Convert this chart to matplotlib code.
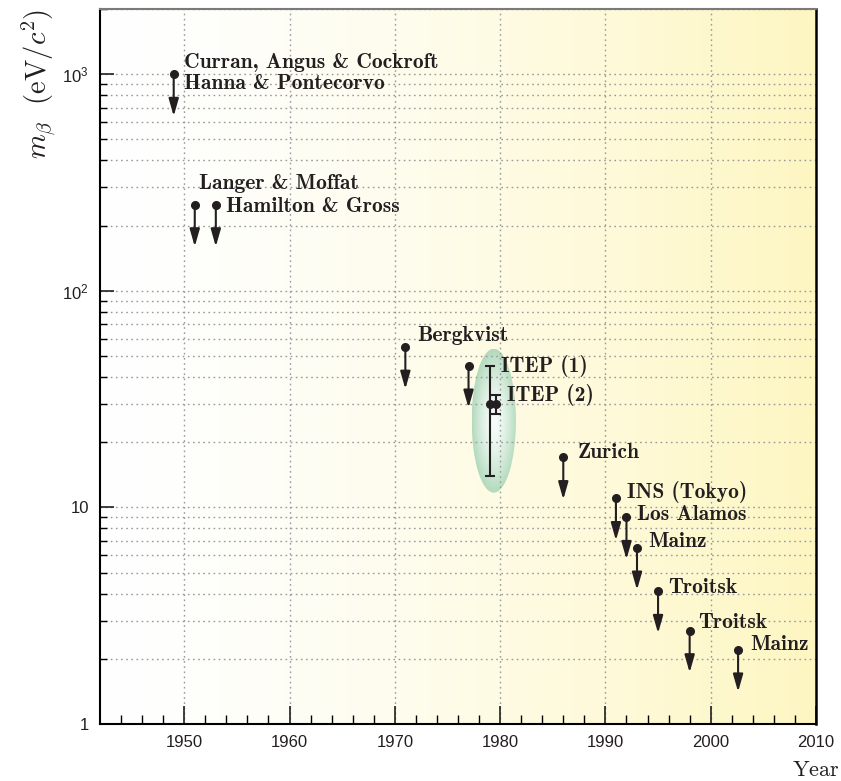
import numpy as np
import matplotlib
matplotlib.use('Agg')
import matplotlib.pyplot as plt
from matplotlib.patches import Ellipse
from matplotlib.ticker import FixedLocator, NullFormatter

plt.rcParams['font.family'] = ['Liberation Sans', 'DejaVu Sans']
plt.rcParams['mathtext.fontset'] = 'custom'
plt.rcParams['mathtext.rm'] = 'Liberation Sans'
plt.rcParams['mathtext.it'] = 'Liberation Sans:italic'

# upper limits on m_beta (drawn as arrows pointing down)
limit_years = [1949, 1951, 1953, 1971, 1977, 1986, 1991, 1992, 1993, 1995, 1998, 2002.6]
limit_values = [1000, 250, 250, 55, 45, 17, 11, 9.0, 6.5, 4.1, 2.7, 2.2]

# ITEP claimed measurements with error bars
itep_years = [1979.0, 1979.6]
itep_values = [30, 30]
itep_low = [14, 27]
itep_high = [45, 33]

# shaded region around the ITEP claim
ellipse_years = (1977.3, 1981.5)
ellipse_values = (11.7, 54)

labels = ['Curran, Angus & Cockroft', 'Hanna & Pontecorvo', 'Langer & Moffat',
          'Hamilton & Gross', 'Bergkvist', 'ITEP (1)', 'ITEP (2)', 'Zurich',
          'INS (Tokyo)', 'Los Alamos', 'Mainz', 'Troitsk', 'Troitsk', 'Mainz']
label_x = [1949, 1949, 1951, 1953, 1971, 1979.0, 1979.6, 1986, 1991, 1992, 1993, 1995, 1998, 2002.6]
label_y = [1000, 1000, 250, 250, 55, 45, 30, 17, 11, 9.0, 6.5, 4.1, 2.7, 2.2]
# text offsets from the anchor point, in pixels
label_dx = [10, 10, 4, 10, 12, 11, 11, 14, 11, 11, 11, 10, 9, 12]
label_dy = [12, -9, 21, -2, 12, 0, 9, 5, 6, 3, 6, 4, 8, 5]

ink = '#231f20'
px = 0.72  # points per pixel at dpi 100

fig = plt.figure(figsize=(8.41, 7.81), dpi=100)
ax = fig.add_axes([100 / 841, 1 - 724 / 781, 716 / 841, 715 / 781])
ax.set_facecolor('none')
ax.set_xscale('linear')
ax.set_yscale('log')
ax.set_autoscale_on(False)
ax.set_xlim(1942, 2010)
ax.set_ylim(1, 2000)

# background: white on the left fading to pale yellow on the right
t = np.linspace(0, 1, 400) ** 1.4
left = np.array([1.0, 1.0, 1.0])
right = np.array([0.995, 0.965, 0.76])
bg = left + (right - left) * t[:, None]
ax.imshow(bg[None, :, :], extent=[0, 1, 0, 1], transform=ax.transAxes,
          aspect='auto', zorder=0, interpolation='bilinear')

# radial green gradient inside the ellipse
def to_axes(x, y):
    return ax.transLimits.transform(ax.transScale.transform((x, y)))

ax0, ay0 = to_axes(ellipse_years[0], ellipse_values[0])
ax1, ay1 = to_axes(ellipse_years[1], ellipse_values[1])
n = 300
gx, gy = np.meshgrid(np.linspace(-1, 1, n), np.linspace(-1, 1, n))
r = np.clip(np.hypot(gx, gy), 0, 1)
inner = np.array([0.97, 0.99, 0.98])
outer = np.array([0.70, 0.855, 0.74])
img = inner + (outer - inner) * (r ** 1.5)[..., None]
im = ax.imshow(img, extent=[ax0, ax1, ay0, ay1], transform=ax.transAxes,
               origin='lower', aspect='auto', zorder=0.5, interpolation='bilinear')
ell = Ellipse(((ax0 + ax1) / 2, (ay0 + ay1) / 2), ax1 - ax0, ay1 - ay0,
              transform=ax.transAxes, facecolor='none', edgecolor='none')
ax.add_patch(ell)
im.set_clip_path(ell)
ax.set_xlim(1942, 2010)
ax.set_ylim(1, 2000)

# grid
ax.xaxis.set_major_locator(FixedLocator(range(1950, 2011, 10)))
ax.xaxis.set_minor_locator(FixedLocator(range(1944, 2010, 2)))
ax.yaxis.set_major_locator(FixedLocator([1, 10, 100, 1000]))
ax.yaxis.set_minor_locator(FixedLocator([m * 10 ** e for e in range(0, 4) for m in range(2, 10)]))
ax.yaxis.set_minor_formatter(NullFormatter())
ax.set_yticklabels(['1', '10', r'$10^{2}$', r'$10^{3}$'])
ax.grid(True, which='major', axis='x', color='#9a9a9a', linestyle=(0, (1.2, 2.5)), lw=1)
ax.grid(True, which='both', axis='y', color='#9a9a9a', linestyle=(0, (1.2, 2.5)), lw=1)

ax.tick_params(axis='x', which='major', direction='in', length=13, width=1.2, pad=8,
               labelsize=12, colors=ink, top=False)
ax.tick_params(axis='x', which='minor', direction='in', length=6.5, width=1.0, top=False)
ax.tick_params(axis='y', which='major', direction='in', length=10, width=1.2, pad=8,
               labelsize=12, colors=ink, right=False)
ax.tick_params(axis='y', which='minor', direction='in', length=5, width=1.0, right=False)

for side in ['left', 'bottom']:
    ax.spines[side].set_color('black')
    ax.spines[side].set_linewidth(1.5)
ax.spines['right'].set_color('black')
ax.spines['right'].set_linewidth(1.8)
ax.spines['top'].set_color('#7a7a7a')
ax.spines['top'].set_linewidth(1.5)

# upper limits
for yr, val in zip(limit_years, limit_values):
    ax.annotate('', xy=(yr, val * 0.64), xytext=(yr, val),
                arrowprops=dict(arrowstyle='-|>,head_length=1.05,head_width=0.3',
                                color=ink, lw=1.5, shrinkA=0, shrinkB=0,
                                mutation_scale=10),
                zorder=3)
ax.plot(limit_years, limit_values, 'o', color=ink, ms=5.5, zorder=4)

# ITEP measurements
for yr, val, lo, hi in zip(itep_years, itep_values, itep_low, itep_high):
    ax.errorbar([yr], [val], yerr=[[val - lo], [hi - val]], fmt='o', color=ink,
                ms=5.5, lw=1.5, capsize=3.3, capthick=1.5, zorder=4)

for s, x, y, dx, dy in zip(labels, label_x, label_y, label_dx, label_dy):
    ax.annotate(s, xy=(x, y), xytext=(dx * px, dy * px), textcoords='offset points',
                ha='left', va='center', fontsize=15.5, color=ink,
                family='cmb10', zorder=5)

fig.text(40 / 841, 1 - 9 / 781, r'$m_{\beta}\ \ (\mathrm{eV}/c^{2})$', rotation=90,
         ha='center', va='top', fontsize=20.5, color=ink, math_fontfamily='cm')
fig.text(840 / 841, 1 - 770 / 781, r'$\mathrm{Year}$', ha='right', va='center',
         fontsize=16, color=ink, math_fontfamily='cm')

fig.savefig('out.png', dpi=100)
